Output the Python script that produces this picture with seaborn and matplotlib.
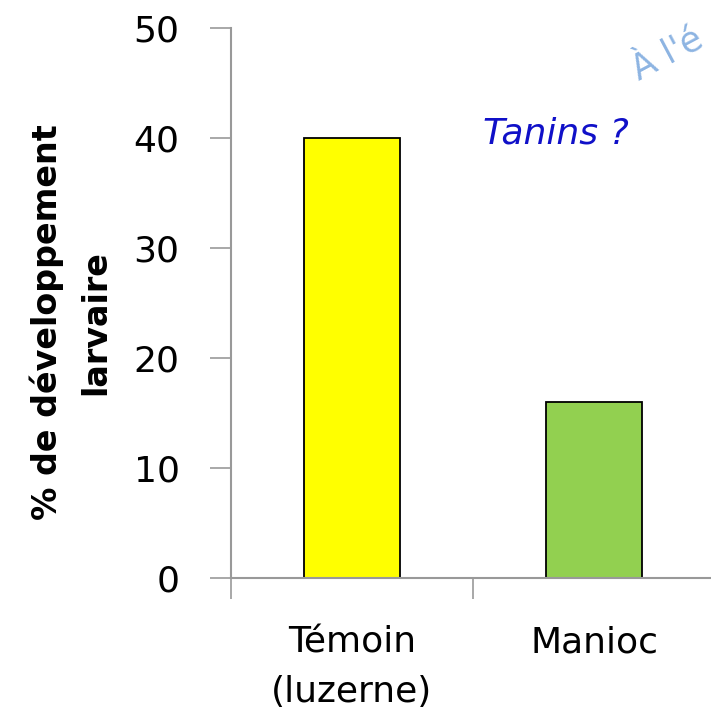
import numpy as np
import pandas as pd
import matplotlib
matplotlib.use("Agg")
import matplotlib.pyplot as plt
import seaborn as sns

# Données
categories = ["Témoin\n(luzerne)", "Manioc"]
valeurs = [40, 16]
couleurs = ["#FFFF00", "#92D050"]

df = pd.DataFrame({"categorie": categories, "valeur": valeurs})

sns.set_style("white")
plt.rcParams["font.family"] = ["DejaVu Sans"]
plt.rcParams["text.color"] = "black"

fig = plt.figure(figsize=(7.11, 7.24), dpi=100)
# axe volontairement plus large que la figure (graphique recadré à droite)
ax = fig.add_axes([231 / 711, 146 / 724, 484 / 711, 550 / 724])

sns.barplot(data=df, x="categorie", y="valeur", hue="categorie",
            palette=couleurs, saturation=1, width=0.4, edgecolor="black",
            linewidth=1.3, legend=False, ax=ax)

ax.set_xlim(-0.5, 1.5)
ax.set_ylim(0, 50)
ax.set_yticks([0, 10, 20, 30, 40, 50])
ax.tick_params(axis="y", labelsize=26, length=15, width=1.2, color="#999999",
               labelcolor="black", direction="out", left=True, pad=22)
ax.set_xticks([0, 1])
ax.set_xticks([-0.5, 0.5, 1.5], minor=True)
ax.tick_params(axis="x", which="major", length=0, labelsize=26,
               labelcolor="black", pad=34)
ax.tick_params(axis="x", which="minor", length=15, width=1.2, color="#999999",
               direction="out", bottom=True)
ax.set_xlabel("")
for lab in ax.get_xticklabels():
    lab.set_linespacing(1.6)

for s in ["top", "right"]:
    ax.spines[s].set_visible(False)
for s in ["left", "bottom"]:
    ax.spines[s].set_color("#999999")
    ax.spines[s].set_linewidth(1.5)

ax.set_ylabel("% de développement\nlarvaire", fontsize=24, fontweight="bold",
              color="black", linespacing=1.6)
ax.yaxis.set_label_coords(-0.245, 0.465)

ax.text(556, 724 - 133, "Tanins ?", transform=None, fontsize=26,
        style="italic", color="#1010C8", ha="center", va="center")
fig.text(0.88, 0.925, "À l'é", fontsize=25, color="#8DB4E2", rotation=28,
         ha="left", va="center")

fig.savefig("out.png", dpi=100)
